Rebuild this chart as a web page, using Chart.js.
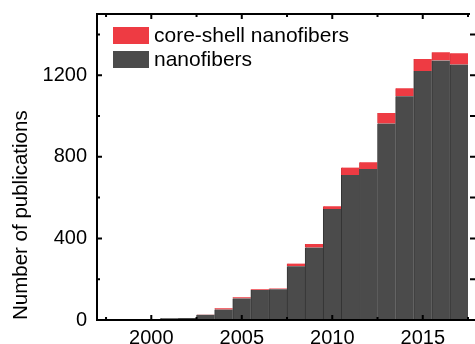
<!DOCTYPE html>
<html>
<head>
<meta charset="utf-8">
<script src="https://cdn.jsdelivr.net/npm/chart.js@4/dist/chart.umd.min.js"></script>
<style>
  html, body { margin: 0; padding: 0; background: #fff; }
  canvas { display: block; }
</style>
</head>
<body>
<canvas id="c" width="475" height="344"></canvas>
<script>
// ---- data ----
const years = [2001, 2002, 2003, 2004, 2005, 2006, 2007, 2008, 2009, 2010, 2011, 2012, 2013, 2014, 2015, 2016, 2017];
const nanofibers = [8, 10, 26, 51, 106, 147, 151, 264, 355, 544, 711, 740, 963, 1097, 1220, 1272, 1252];
const coreShell = [0, 0, 1, 6, 5, 4, 4, 13, 17, 14, 36, 33, 52, 39, 60, 41, 56];
const seriesLabels = ['nanofibers', 'core-shell nanofibers'];
const xTickLabels = [2000, 2005, 2010, 2015];
const xMinorTicks = [1997.5, 2002.5, 2007.5, 2012.5, 2017.5];
const yTickLabels = [0, 400, 800, 1200];
const yMinorTicks = [200, 600, 1000, 1400];
const axisTitleY = 'Number of publications';

const FONT = "'Liberation Sans', Arial, Helvetica, sans-serif";
const GREY = '#4b4b4b';
const RED = '#ee3b43';

const frameAndLegend = {
  id: 'frameAndLegend',
  afterDraw(chart) {
    const { ctx, chartArea: a, scales: { x, y } } = chart;
    ctx.save();
    ctx.strokeStyle = '#000';
    ctx.lineWidth = 2;
    ctx.lineCap = 'butt';
    ctx.beginPath();
    ctx.moveTo(a.left - 1, a.top); ctx.lineTo(a.right + 2, a.top);
    ctx.moveTo(a.left, a.top - 1); ctx.lineTo(a.left, a.bottom + 1);
    ctx.moveTo(a.left - 1, a.bottom); ctx.lineTo(a.right + 5, a.bottom);
    ctx.stroke();
    // inward ticks
    const tick = (px, len, horizontal) => {
      ctx.beginPath();
      if (horizontal) {
        ctx.moveTo(px, a.bottom); ctx.lineTo(px, a.bottom - len);
        ctx.moveTo(px, a.top); ctx.lineTo(px, a.top + len);
      } else {
        ctx.moveTo(a.left, px); ctx.lineTo(a.left + len, px);
        ctx.moveTo(a.right + 2, px); ctx.lineTo(a.right + 7, px);
      }
      ctx.stroke();
    };
    xTickLabels.forEach(v => tick(x.getPixelForValue(v), 5, true));
    xMinorTicks.forEach(v => tick(x.getPixelForValue(v), 3, true));
    yTickLabels.forEach(v => tick(y.getPixelForValue(v), 5, false));
    yMinorTicks.forEach(v => tick(y.getPixelForValue(v), 3, false));

    // legend (inside plot, top-left)
    const ds = chart.data.datasets.slice().reverse();
    ctx.font = '21px ' + FONT;
    ctx.textBaseline = 'middle';
    ctx.textAlign = 'left';
    ds.forEach((d, i) => {
      const bx = a.left + 16, by = a.top + 13 + i * 24, bw = 36, bh = 17;
      ctx.fillStyle = d.backgroundColor;
      ctx.fillRect(bx, by, bw, bh);
      ctx.fillStyle = '#000';
      ctx.fillText(d.label, bx + 41, by + bh / 2 + 1);
    });
    ctx.restore();
  }
};

new Chart(document.getElementById('c'), {
  type: 'bar',
  data: {
    datasets: [
      {
        label: seriesLabels[0],
        data: years.map((yr, i) => ({ x: yr, y: nanofibers[i] })),
        backgroundColor: GREY,
        borderColor: '#343434',
        borderWidth: { left: 1, right: 0, top: 0, bottom: 0 },
        borderSkipped: false,
        barPercentage: 1,
        categoryPercentage: 1
      },
      {
        label: seriesLabels[1],
        data: years.map((yr, i) => ({ x: yr, y: coreShell[i] })),
        backgroundColor: RED,
        borderColor: '#d8333a',
        borderWidth: { left: 1, right: 0, top: 0, bottom: 0 },
        borderSkipped: false,
        barPercentage: 1,
        categoryPercentage: 1
      }
    ]
  },
  options: {
    responsive: false,
    animation: false,
    devicePixelRatio: 1,
    layout: { padding: { top: 14, right: 7, left: 0, bottom: 0 } },
    plugins: { legend: { display: false }, tooltip: { enabled: false } },
    scales: {
      x: {
        type: 'linear',
        offset: false,
        min: 1997,
        max: 2017.5,
        stacked: true,
        grid: { display: false, drawTicks: false, offset: false },
        border: { display: false },
        afterBuildTicks: s => { s.ticks = xTickLabels.map(v => ({ value: v })); },
        afterFit: s => { s.height = 24; s.paddingLeft = 0; s.paddingRight = 0; },
        ticks: {
          autoSkip: false,
          maxRotation: 0,
          padding: 6,
          color: '#000',
          font: { family: FONT, size: 20 },
          callback: v => String(v)
        }
      },
      y: {
        min: 0,
        max: 1500,
        stacked: true,
        grid: { display: false, drawTicks: false },
        border: { display: false },
        afterBuildTicks: s => { s.ticks = yTickLabels.map(v => ({ value: v })); },
        afterFit: s => { s.width = 97; s.paddingTop = 0; s.paddingBottom = 0; },
        ticks: {
          padding: 10,
          color: '#000',
          font: { family: FONT, size: 20 },
          callback: v => String(v)
        },
        title: {
          display: true,
          text: axisTitleY,
          align: 'start',
          color: '#000',
          font: { family: FONT, size: 20.5 },
          padding: { top: 9, bottom: 0 }
        }
      }
    }
  },
  plugins: [frameAndLegend]
});
</script>
</body>
</html>
